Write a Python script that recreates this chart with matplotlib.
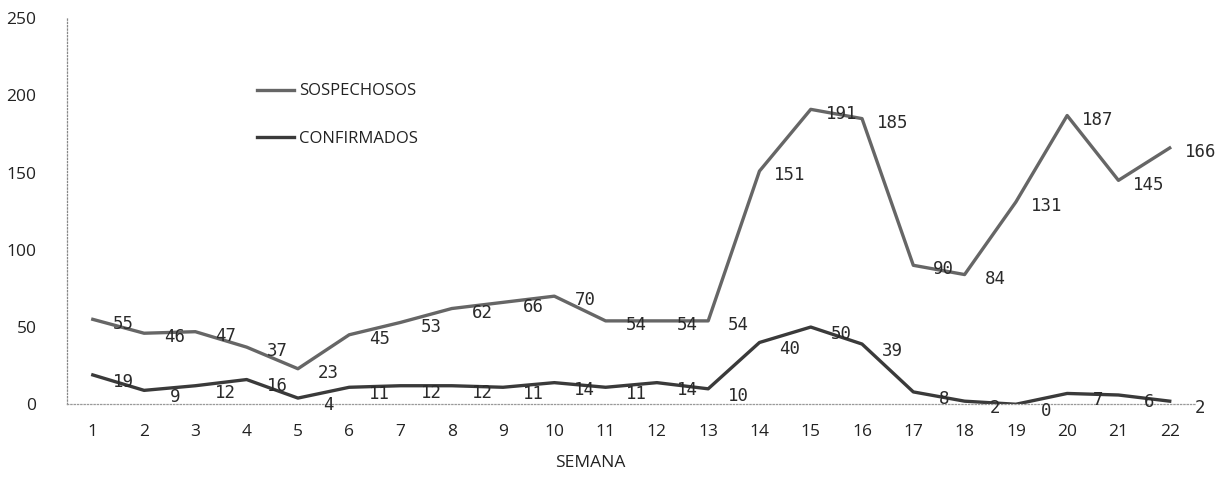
import numpy as np
import matplotlib.pyplot as plt

plt.rcParams['font.family'] = ['Open Sans', 'DejaVu Sans']

# weekly counts
semanas = list(range(1, 23))
sospechosos = [55, 46, 47, 37, 23, 45, 53, 62, 66, 70, 54, 54, 54,
               151, 191, 185, 90, 84, 131, 187, 145, 166]
confirmados = [19, 9, 12, 16, 4, 11, 12, 12, 11, 14, 11, 14, 10,
               40, 50, 39, 8, 2, 0, 7, 6, 2]
y_ticks = [0, 50, 100, 150, 200, 250]

fig = plt.figure(figsize=(12.21, 4.93), dpi=100)
ax = fig.add_axes([0.055, 0.18, 0.924, 0.783])

ax.plot(semanas, sospechosos, color='#666666', lw=2.4, label='SOSPECHOSOS')
ax.plot(semanas, confirmados, color='#3a3a3a', lw=2.4, label='CONFIRMADOS')

lbl_font = ['DejaVu Sans Mono']
for x, v in zip(semanas, sospechosos):
    ax.annotate(str(v), (x, v), xytext=(22, -3), textcoords='offset points',
                ha='center', va='center', fontsize=12.5, color='#2a2a2a',
                family=lbl_font, fontweight='light')
for x, v in zip(semanas, confirmados):
    ax.annotate(str(v), (x, v), xytext=(22, -5), textcoords='offset points',
                ha='center', va='center', fontsize=12.5, color='#2a2a2a',
                family=lbl_font, fontweight='light')

ax.set_xlim(0.5, 22.5)
ax.set_ylim(0, 250)
ax.set_xticks(semanas)
ax.set_yticks(y_ticks)
ax.tick_params(axis='both', length=0, labelsize=12.5, colors='#222222')
ax.tick_params(axis='x', pad=14)
ax.tick_params(axis='y', pad=22)

for side in ['top', 'right']:
    ax.spines[side].set_visible(False)
ax.spines['left'].set_linestyle(':')
ax.spines['left'].set_color('#888888')
ax.spines['left'].set_linewidth(0.9)
ax.spines['bottom'].set_linestyle(':')
ax.spines['bottom'].set_color('#999999')
ax.spines['bottom'].set_linewidth(0.9)

fig.text(590 / 1221, 1 - 463 / 493, 'SEMANA', ha='center', va='center',
         fontsize=12.5, color='#222222')

leg = ax.legend(loc='upper left', bbox_to_anchor=(0.155, 0.87), frameon=False,
                fontsize=12, handlelength=2.2, handletextpad=0.3,
                labelspacing=1.9, labelcolor='#222222')

fig.savefig('out.png', dpi=100)
